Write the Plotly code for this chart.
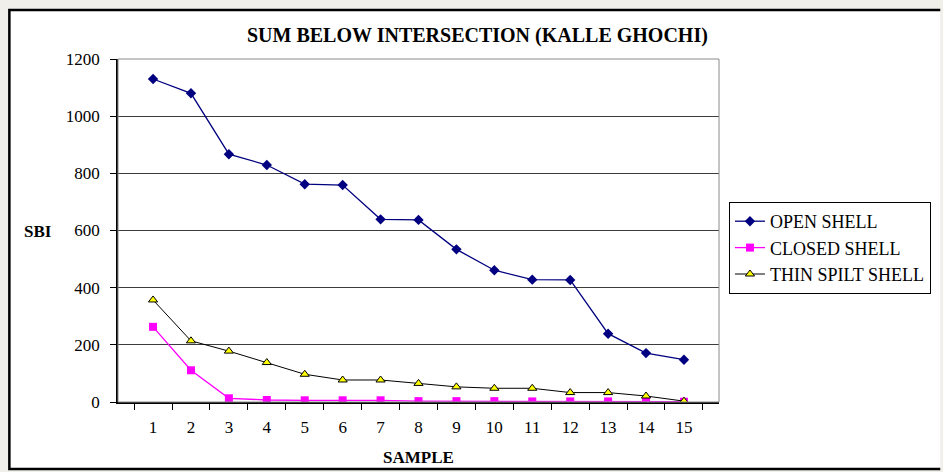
import plotly.graph_objects as go

samples = [str(i) for i in range(1, 16)]
open_shell = [1130, 1080, 867, 829, 762, 759, 639, 637, 534, 461, 428, 427, 239, 171, 148]
closed_shell = [263, 111, 13, 7, 6, 6, 6, 3, 3, 3, 2, 2, 2, 2, 1]
thin_spilt_shell = [357, 214, 178, 138, 97, 77, 77, 65, 53, 48, 48, 33, 33, 21, 3]
y_ticks = [0, 200, 400, 600, 800, 1000, 1200]

W, H = 943, 472
L, R, T, B = 118, 721, 59, 402  # plot area in pixels

def px(x):
    return (x - L) / (R - L)

def py(y):
    return (B - y) / (B - T)

FONT = "Times New Roman, Liberation Serif, serif"

fig = go.Figure()
fig.add_trace(go.Scatter(
    x=samples, y=open_shell, name="OPEN SHELL", mode="lines+markers",
    line=dict(color="#000080", width=1.3),
    marker=dict(symbol="diamond", size=8, color="#000080"),
))
fig.add_trace(go.Scatter(
    x=samples, y=closed_shell, name="CLOSED SHELL", mode="lines+markers",
    line=dict(color="#FF00FF", width=1.3),
    marker=dict(symbol="square", size=8, color="#FF00FF"),
))
fig.add_trace(go.Scatter(
    x=samples, y=thin_spilt_shell, name="THIN SPILT SHELL", mode="lines+markers",
    line=dict(color="#000000", width=1),
    marker=dict(symbol="triangle-up", size=8, color="#FFFF00",
                line=dict(color="#000000", width=1)),
))

shapes = [
    # white chart area
    dict(type="rect", xref="paper", yref="paper", layer="below",
         x0=px(9), x1=px(943), y0=py(469), y1=py(10),
         fillcolor="white", line=dict(width=0)),
    # frame: top, left, bottom
    dict(type="path", xref="paper", yref="paper", layer="below",
         path=f"M {px(943)},{py(10)} L {px(9)},{py(10)} L {px(9)},{py(469)} L {px(943)},{py(469)}",
         line=dict(color="black", width=2.5)),
    # plot area border
    dict(type="rect", xref="paper", yref="paper", layer="above",
         x0=0, x1=1, y0=0, y1=1, line=dict(color="#8a8a8a", width=1)),
]

annotations = [
    dict(text="<b>SUM BELOW INTERSECTION (KALLE GHOCHI)</b>", xref="paper", yref="paper",
         x=px(479), y=py(35), xanchor="center", yanchor="middle", showarrow=False,
         font=dict(family=FONT, size=20, color="black")),
    dict(text="<b>SBI</b>", xref="paper", yref="paper",
         x=px(38), y=py(232), xanchor="center", yanchor="middle", showarrow=False,
         font=dict(family=FONT, size=17, color="black")),
    dict(text="<b>SAMPLE</b>", xref="paper", yref="paper",
         x=px(420), y=py(457), xanchor="center", yanchor="middle", showarrow=False,
         font=dict(family=FONT, size=17, color="black")),
]

fig.update_layout(
    width=W, height=H, autosize=False,
    margin=dict(l=L, r=W - R, t=T, b=H - B, pad=0),
    paper_bgcolor="#f1efea",
    plot_bgcolor="white",
    showlegend=True,
    legend=dict(
        x=px(731), y=py(202), xanchor="left", yanchor="top",
        bgcolor="white", bordercolor="black", borderwidth=1,
        font=dict(family=FONT, size=18, color="black"),
        tracegroupgap=0, itemwidth=30,
    ),
    xaxis=dict(
        type="category", tickson="boundaries", ticks="outside", ticklen=6,
        tickcolor="black", showline=True, linecolor="black", linewidth=1.5,
        showgrid=False, ticklabelstandoff=9,
        tickfont=dict(family=FONT, size=17, color="black"),
    ),
    yaxis=dict(
        range=[0, 1200], tickvals=y_ticks, ticks="outside", ticklen=6,
        tickcolor="black", showline=True, linecolor="black", linewidth=1.5,
        showgrid=True, gridcolor="#3c3c3c", gridwidth=1, zeroline=False,
        ticklabelstandoff=7,
        tickfont=dict(family=FONT, size=17, color="black"),
    ),
    shapes=shapes,
    annotations=annotations,
)

fig.write_html("out.html")
